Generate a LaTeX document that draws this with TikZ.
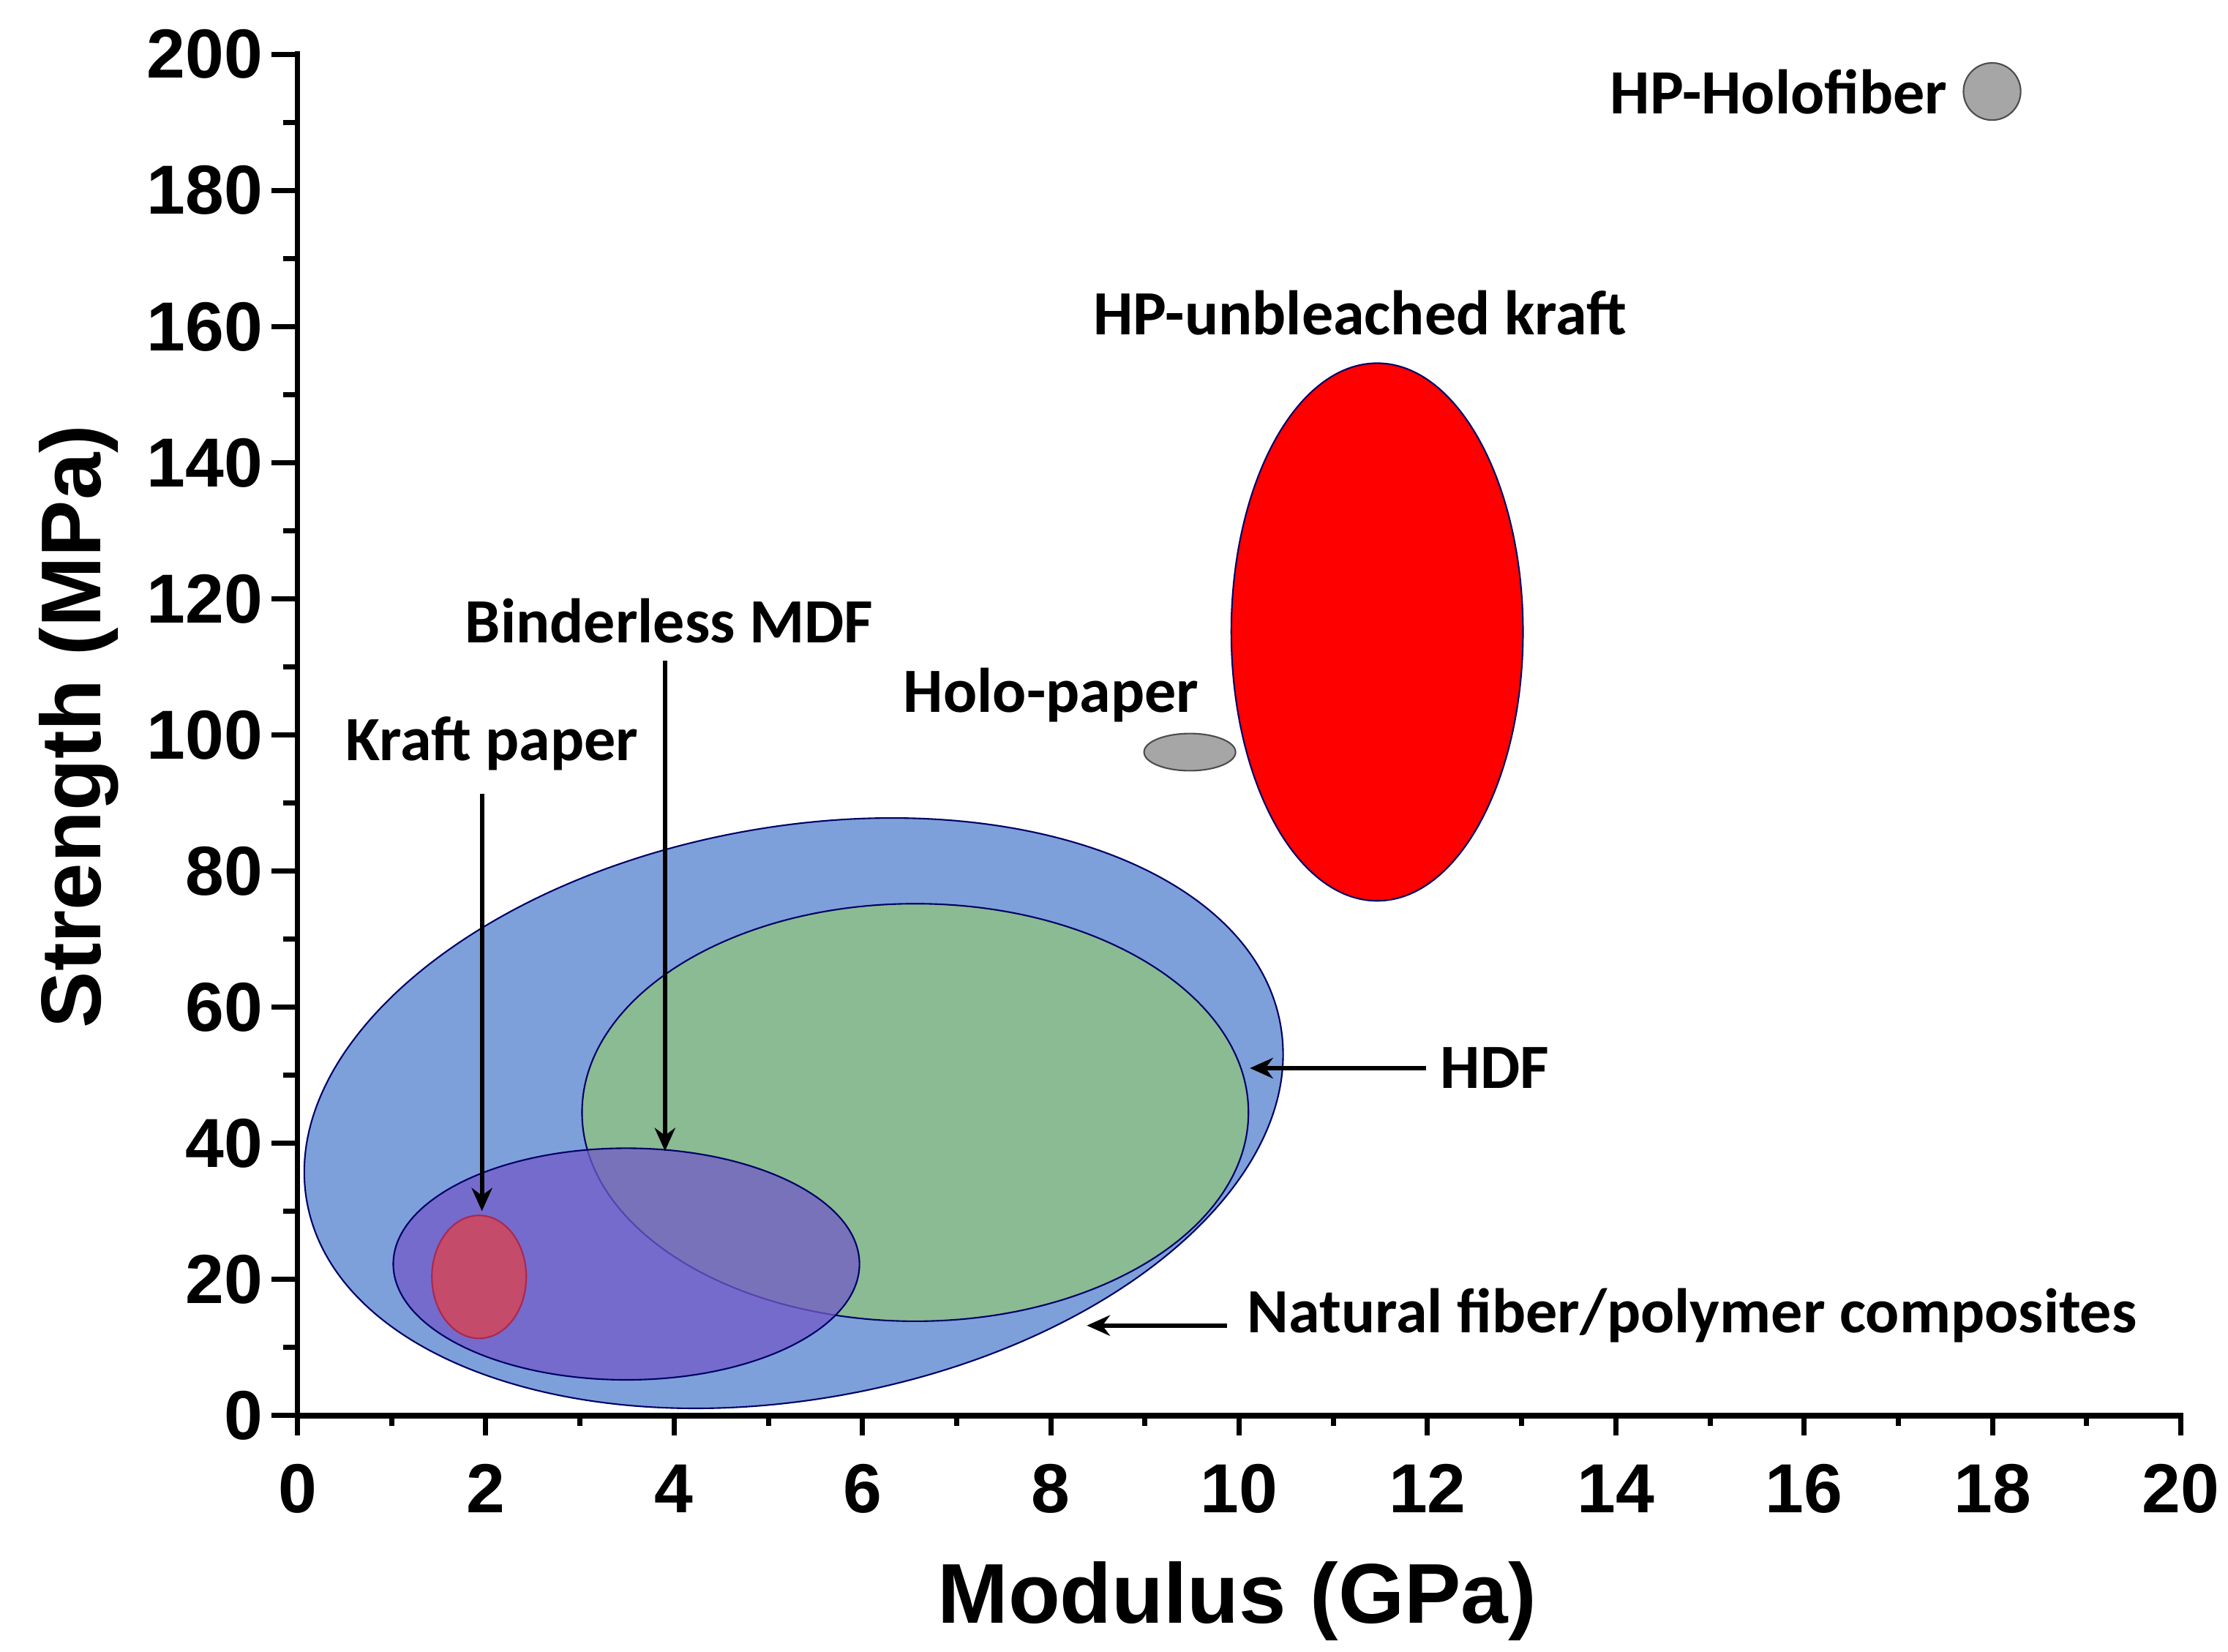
\documentclass[tikz,border=0pt]{standalone}
\usepackage{fontspec}
\setmainfont{Liberation Sans}
\newfontfamily\lblfont{Carlito}
\usetikzlibrary{arrows.meta}
\begin{document}
\begin{tikzpicture}[x=0.019544cm,y=0.019544cm,
  lbl/.style={font=\lblfont\bfseries\fontsize{24.5}{28}\selectfont,inner sep=0pt},
  ax/.style={font=\bfseries\fontsize{27}{30}\selectfont,inner sep=0pt},
  region/.style={draw=black!60!blue,line width=0.6pt},
  pointer/.style={line width=1.7pt,-{Stealth[length=9pt,width=8pt]}}]
\useasboundingbox (0,0) rectangle (1558,1155);
% regions
\draw[region,fill={rgb,255:red,125;green,160;blue,218}] (555,376.5) ellipse[x radius=346,y radius=200,rotate=10.4];
\draw[region,fill={rgb,255:red,140;green,190;blue,140},fill opacity=0.9] (640,377) ellipse[x radius=233,y radius=146];
\draw[region,fill={rgb,255:red,115;green,90;blue,200},fill opacity=0.75] (438,271) ellipse[x radius=163,y radius=81];
\draw[region,draw={rgb,255:red,170;green,40;blue,80},fill={rgb,255:red,210;green,70;blue,90},fill opacity=0.85] (335,262) ellipse[x radius=33,y radius=43];
\draw[region,fill=red] (963,713) ellipse[x radius=102,y radius=188];
\draw[region,draw=black!70,fill=black!35] (832,629) ellipse[x radius=32,y radius=13];
\draw[region,draw=black!70,fill=black!35] (1393,1091) circle[radius=20];
% axes
\draw[line width=2.2pt,line cap=rect] (208,1117) -- (208,165) -- (1525,165);
\foreach \i in {0,2,...,20}{
  \draw[line width=2pt] ({208+65.85*\i},165) -- ({208+65.85*\i},151);
  \node[ax] (xl\i) at ({208+65.85*\i},114) {\i};}
\foreach \i in {1,3,...,19}
  \draw[line width=2pt] ({208+65.85*\i},165) -- ({208+65.85*\i},158);
\foreach \i in {0,20,...,200}{
  \draw[line width=2pt] (208,{165+4.76*\i}) -- (190,{165+4.76*\i});
  \node[ax,anchor=east] (yl\i) at (184,{165+4.76*\i}) {\i};}
\foreach \i in {10,30,...,190}
  \draw[line width=2pt] (208,{165+4.76*\i}) -- (198,{165+4.76*\i});
\node[font=\bfseries\fontsize{33}{36}\selectfont] (xt) at (865,35) {Modulus (GPa)};
\node[font=\bfseries\fontsize{33}{36}\selectfont,rotate=90] (yt) at (55,647) {Strength (MPa)};
% labels
\node[lbl,anchor=east] (hol) at (1362,1091) {HP-Holofiber};
\node[lbl] (hpu) at (951,936) {HP-unbleached kraft};
\node[lbl] (bmdf) at (468,721) {Binderless MDF};
\node[lbl] (holo) at (735,669) {Holo-paper};
\node[lbl] (kraft) at (344,635) {Kraft paper};
\node[lbl,anchor=west] (hdf) at (1007,408) {HDF};
\node[lbl,anchor=west] (nat) at (872,235) {Natural fiber/polymer composites};
% arrows
\coordinate (k1) at (337,600); \coordinate (k2) at (337,308);
\coordinate (b1) at (465,693); \coordinate (b2) at (465,350);
\coordinate (h1) at (997,408); \coordinate (h2) at (874,408);
\coordinate (n1) at (858,228); \coordinate (n2) at (760,228);
\draw[pointer] (k1) -- (k2);
\draw[pointer] (b1) -- (b2);
\draw[pointer] (h1) -- (h2);
\draw[pointer] (n1) -- (n2);
\end{tikzpicture}
\end{document}
